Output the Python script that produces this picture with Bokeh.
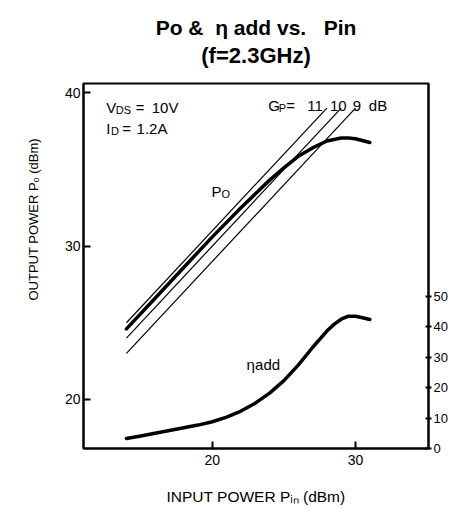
from bokeh.plotting import figure
from bokeh.models import Range1d, LinearAxis, FixedTicker, Label, Title
from bokeh.embed import file_html
from bokeh.resources import INLINE

# ---------------- data ----------------
pin_po = [14, 16, 18, 20, 22, 24, 25, 26, 27, 28, 29, 29.5, 30, 31]
po = [24.6, 26.6, 28.6, 30.6, 32.5, 34.3, 35.1, 35.85, 36.4, 36.85, 37.05, 37.05, 37.0, 36.75]

pin_eta = [14, 15, 16, 17, 18, 19, 20, 21, 22, 23, 24, 25, 26, 27, 28, 28.5, 29, 29.5, 30, 30.5, 31]
eta = [3.3, 4.1, 5.0, 5.9, 6.8, 7.7, 8.8, 10.3, 12.3, 14.9, 18.2, 22.3, 27.4, 33.2,
       38.6, 40.8, 42.5, 43.5, 43.5, 43.0, 42.4]

gp_names = ["11", "10", "9"]
gp11_pin = [14, 28]
gp11_po = [25, 39]
gp10_pin = [14, 29]
gp10_po = [24, 39]
gp9_pin = [14, 30]
gp9_po = [23, 39]

x_ticks = [20, 30]
y_ticks = [20, 30, 40]
eta_ticks = [0, 10, 20, 30, 40, 50]

# ---------------- layout ----------------
X0, X1 = 11.0, 35.1
Y0, Y1 = 16.8, 40.6
E0, E1 = 0, 120
W, H = 454, 522
BL, BR, BT, BB = 83, 26, 83, 74
FT, FB = BT, H - BB

def rx(px):   # reference pixel -> data x (reference frame 83..447)
    return X0 + (px - 83) / (447 - 83) * (X1 - X0)

def ry(py):
    return Y1 - (py - FT) / (FB - FT) * (Y1 - Y0)

FONT = "Liberation Sans"
NB = "\u00a0"

p = figure(width=W, height=H, x_range=Range1d(X0, X1), y_range=Range1d(Y0, Y1),
           output_backend="svg", toolbar_location=None,
           min_border_left=BL, min_border_right=BR, min_border_top=BT, min_border_bottom=BB)
p.extra_y_ranges = {"eta": Range1d(E0, E1)}
p.xgrid.visible = False
p.ygrid.visible = False
p.outline_line_color = "black"
p.outline_line_width = 2
p.background_fill_color = "white"
p.border_fill_color = "white"

def style_axis(ax, tin, tout, standoff):
    ax.axis_line_color = "black"
    ax.axis_line_width = 2
    ax.major_tick_line_color = "black"
    ax.major_tick_line_width = 2
    ax.major_tick_in = tin
    ax.major_tick_out = tout
    ax.minor_tick_line_color = None
    ax.major_label_text_font = FONT
    ax.major_label_text_font_size = "14px"
    ax.major_label_text_color = "black"
    ax.major_label_standoff = standoff

p.xaxis.ticker = FixedTicker(ticks=x_ticks)
p.yaxis.ticker = FixedTicker(ticks=y_ticks)
style_axis(p.xaxis[0], 7, 0, 6)
style_axis(p.yaxis[0], 7, 0, 3)

p.xaxis.axis_label = "INPUT POWER P\u1d62\u2099 (dBm)"
p.xaxis.axis_label_text_font = FONT
p.xaxis.axis_label_text_font_size = "15.5px"
p.xaxis.axis_label_text_font_style = "normal"
p.xaxis.axis_label_text_color = "black"
p.xaxis.axis_label_standoff = 20

ra = LinearAxis(y_range_name="eta", ticker=FixedTicker(ticks=eta_ticks))
style_axis(ra, 3, 3, 2)
ra.major_label_text_font_size = "13px"
p.add_layout(ra, "right")

# ---------------- titles ----------------
line1 = "Po &" + NB * 2 + "\u03b7" + NB + "add" + NB + "vs." + NB * 3 + "Pin"
line2 = "(f=2.3GHz)"
# small spacer between frame and the second title line
p.add_layout(Title(text=NB, text_font_size="1px", standoff=11), "above")
p.add_layout(Title(text=line2, align="center", text_font=FONT, text_font_size="22px",
                   text_font_style="bold", text_color="black", standoff=4), "above")
p.add_layout(Title(text=line1, align="center", text_font=FONT,
                   text_font_size="21px", text_font_style="bold", text_color="black",
                   standoff=0), "above")
p.add_layout(Title(text="OUTPUT POWER P\u2092 (dBm)", align="left", offset=148, text_font=FONT,
                   text_font_size="13px", text_font_style="normal", text_color="black",
                   standoff=42), "left")

# ---------------- lines ----------------
p.line(gp11_pin, gp11_po, line_color="black", line_width=1.2)
p.line(gp10_pin, gp10_po, line_color="black", line_width=1.2)
p.line(gp9_pin, gp9_po, line_color="black", line_width=1.2)
p.line(pin_po, po, line_color="black", line_width=3.5, line_cap="round", line_join="round")
p.line(pin_eta, eta, y_range_name="eta", line_color="black", line_width=3.5,
       line_cap="round", line_join="round")

def lab(x, y, text, size):
    p.add_layout(Label(x=x, y=y, text=text, text_font=FONT, text_font_size=f"{size}px",
                       text_color="black", text_align="left", text_baseline="alphabetic"))

# ---------------- in-plot annotations ----------------
lab(rx(107), ry(107), "V", 15)
lab(rx(117), ry(109.5), "DS", 11)
lab(rx(138), ry(107), "=", 15)
lab(rx(155), ry(107), "10V", 15)
lab(rx(107), ry(128), "I", 15)
lab(rx(112), ry(130.5), "D", 11)
lab(rx(124), ry(128), "=", 15)
lab(rx(139), ry(128), "1.2A", 15)

lab(rx(278), ry(105), "G", 15)
lab(rx(289), ry(107.5), "P", 11)
lab(rx(297), ry(105), "=", 15)
lab(rx(319), ry(105), gp_names[0], 15)
lab(rx(343), ry(105), gp_names[1], 15)
lab(rx(367), ry(105), gp_names[2], 15)
lab(rx(384), ry(105), "dB", 15)

lab(rx(218), ry(190.5), "P", 15)
lab(rx(228.5), ry(193.5), "O", 11)

lab(rx(255), ry(364), "\u03b7", 15)
lab(rx(264), ry(364), "add", 15)

open("out.html", "w").write(file_html(p, INLINE))
